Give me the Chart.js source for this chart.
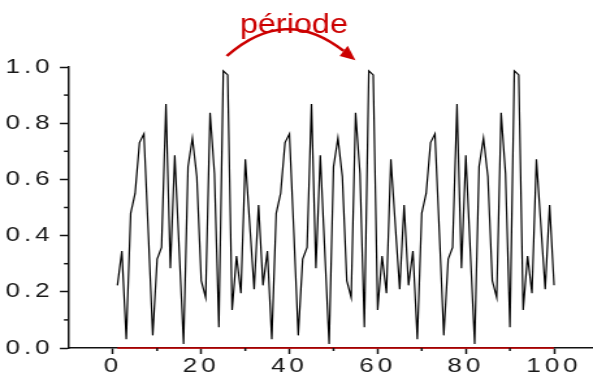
<!DOCTYPE html>
<html>
<head>
<meta charset="utf-8">
<script src="https://cdn.jsdelivr.net/npm/chart.js@4.4.1/dist/chart.umd.min.js"></script>
<style>
html, body { margin: 0; padding: 0; background: #fff; overflow: hidden; }
#quadro { width: 456px; height: 374px; transform: scaleX(1.3004); transform-origin: 0 0; }
</style>
</head>
<body>
<div id="quadro"><canvas id="grafico"></canvas></div>
<script>
// valores (x = 1 .. 100)
var valores = [
    0.223, 0.345, 0.031, 0.479, 0.550, 0.731, 0.762, 0.410, 0.045, 0.316,
    0.358, 0.868, 0.284, 0.686, 0.350, 0.014, 0.645, 0.747, 0.610, 0.240,
    0.180, 0.837, 0.620, 0.074, 0.986, 0.972, 0.135, 0.327, 0.195, 0.672,
    0.440, 0.209, 0.509,
    0.223, 0.345, 0.031, 0.479, 0.550, 0.731, 0.762, 0.410, 0.045, 0.316,
    0.358, 0.868, 0.284, 0.686, 0.350, 0.014, 0.645, 0.747, 0.610, 0.240,
    0.180, 0.837, 0.620, 0.074, 0.986, 0.972, 0.135, 0.327, 0.195, 0.672,
    0.440, 0.209, 0.509,
    0.223, 0.345, 0.031, 0.479, 0.550, 0.731, 0.762, 0.410, 0.045, 0.316,
    0.358, 0.868, 0.284, 0.686, 0.350, 0.014, 0.645, 0.747, 0.610, 0.240,
    0.180, 0.837, 0.620, 0.074, 0.986, 0.972, 0.135, 0.327, 0.195, 0.672,
    0.440, 0.209, 0.509,
    0.223
];
var linhaBaseX = [1, 100];
var linhaBaseY = [0, 0];

var ticksX = [0, 20, 40, 60, 80, 100];
var rotulosX = ["0", "20", "40", "60", "80", "100"];
var ticksXMenor = [10, 30, 50, 70, 90];
var ticksY = [0, 0.2, 0.4, 0.6, 0.8, 1.0];
var rotulosY = ["0.0", "0.2", "0.4", "0.6", "0.8", "1.0"];
var ticksYMenor = [0.1, 0.3, 0.5, 0.7, 0.9];

var textoPeriodo = "période";
var ESTICA = 1.3004;
var VERMELHO = "#cc0000";

var extras = {
    id: "extras",
    beforeDraw: function (chart) {
        chart.ctx.letterSpacing = "3px";
    },
    afterDraw: function (chart) {
        var ctx = chart.ctx;
        var sx = chart.scales.x;
        var sy = chart.scales.y;

        ctx.save();
        ctx.strokeStyle = "#111";
        ctx.lineWidth = 1.5;
        ticksYMenor.forEach(function (v) {
            var py = sy.getPixelForValue(v);
            ctx.beginPath();
            ctx.moveTo(sx.left - 3.8, py);
            ctx.lineTo(sx.left, py);
            ctx.stroke();
        });
        ticksXMenor.forEach(function (v) {
            var px = sx.getPixelForValue(v);
            ctx.beginPath();
            ctx.moveTo(px, sy.bottom);
            ctx.lineTo(px, sy.bottom + 3);
            ctx.stroke();
        });

        // seta curva "période"
        function ponto(x, y) {
            return { x: sx.getPixelForValue(x) * ESTICA, y: sy.getPixelForValue(y) };
        }
        var ini = ponto(25.8, 1.039);
        var ctl = ponto(39.0, 1.221);
        var fim = ponto(52.3, 1.057);
        var dx = fim.x - ctl.x, dy = fim.y - ctl.y;
        var d = Math.sqrt(dx * dx + dy * dy);
        var ux = dx / d, uy = dy / d;
        var ponta = { x: fim.x + ux * 15, y: fim.y + uy * 15 };
        var c1 = { x: fim.x - uy * 6.5, y: fim.y + ux * 6.5 };
        var c2 = { x: fim.x + uy * 6.5, y: fim.y - ux * 6.5 };

        ctx.strokeStyle = VERMELHO;
        ctx.fillStyle = VERMELHO;
        ctx.lineWidth = 2.5;
        ctx.beginPath();
        ctx.moveTo(ini.x / ESTICA, ini.y);
        ctx.quadraticCurveTo(ctl.x / ESTICA, ctl.y, fim.x / ESTICA, fim.y);
        ctx.stroke();
        ctx.beginPath();
        ctx.moveTo(ponta.x / ESTICA, ponta.y);
        ctx.lineTo(c1.x / ESTICA, c1.y);
        ctx.lineTo(c2.x / ESTICA, c2.y);
        ctx.closePath();
        ctx.fill();

        var tx = sx.getPixelForValue(41.0);
        var ty = sy.getPixelForValue(1.12);
        ctx.letterSpacing = "0px";
        ctx.font = "28px 'Liberation Sans', Arial, sans-serif";
        ctx.textAlign = "center";
        ctx.textBaseline = "alphabetic";
        ctx.translate(tx, ty);
        ctx.scale(0.89, 1);
        ctx.fillText(textoPeriodo, 0, 0);
        ctx.restore();
    }
};

function criarGrafico() {
    var ctx = document.getElementById("grafico").getContext("2d");
    var fonteTicks = { family: "'Liberation Sans', Arial, sans-serif", size: 20, lineHeight: 1.2 };

    new Chart(ctx, {
        type: "line",
        data: {
            datasets: [{
                data: linhaBaseX.map(function (x, i) { return { x: x, y: linhaBaseY[i] }; }),
                borderColor: VERMELHO,
                borderWidth: 1.6,
                pointRadius: 0,
                clip: false
            }, {
                data: valores.map(function (v, i) { return { x: i + 1, y: v }; }),
                borderColor: "#000",
                borderWidth: 1.2,
                pointRadius: 0,
                tension: 0
            }]
        },
        options: {
            responsive: true,
            maintainAspectRatio: false,
            animation: false,
            devicePixelRatio: 1,
            layout: { padding: { top: 67, left: 0, right: 0, bottom: 0 } },
            plugins: {
                legend: { display: false },
                tooltip: { enabled: false }
            },
            scales: {
                x: {
                    type: "linear",
                    min: -10,
                    max: 108.6,
                    afterBuildTicks: function (s) {
                        s.ticks = ticksX.map(function (v) { return { value: v }; });
                    },
                    afterFit: function (s) { s.height = 26; },
                    ticks: {
                        color: "#1a1a1a",
                        font: fonteTicks,
                        padding: 0,
                        maxRotation: 0,
                        autoSkip: false,
                        callback: function (v) { return rotulosX[ticksX.indexOf(v)]; }
                    },
                    grid: {
                        drawOnChartArea: false,
                        tickLength: 6,
                        tickWidth: 1.5,
                        tickColor: "#111"
                    },
                    border: { color: "#111", width: 1.5 }
                },
                y: {
                    min: 0,
                    max: 1,
                    afterBuildTicks: function (s) {
                        s.ticks = ticksY.map(function (v) { return { value: v }; });
                    },
                    afterFit: function (s) { s.width = 53; },
                    ticks: {
                        color: "#1a1a1a",
                        font: fonteTicks,
                        padding: 5,
                        autoSkip: false,
                        callback: function (v) { return rotulosY[ticksY.indexOf(v)]; }
                    },
                    grid: {
                        drawOnChartArea: false,
                        tickLength: 6.9,
                        tickWidth: 1.5,
                        tickColor: "#111"
                    },
                    border: { color: "#111", width: 1.5 }
                }
            }
        },
        plugins: [extras]
    });
}

criarGrafico();
</script>
</body>
</html>
